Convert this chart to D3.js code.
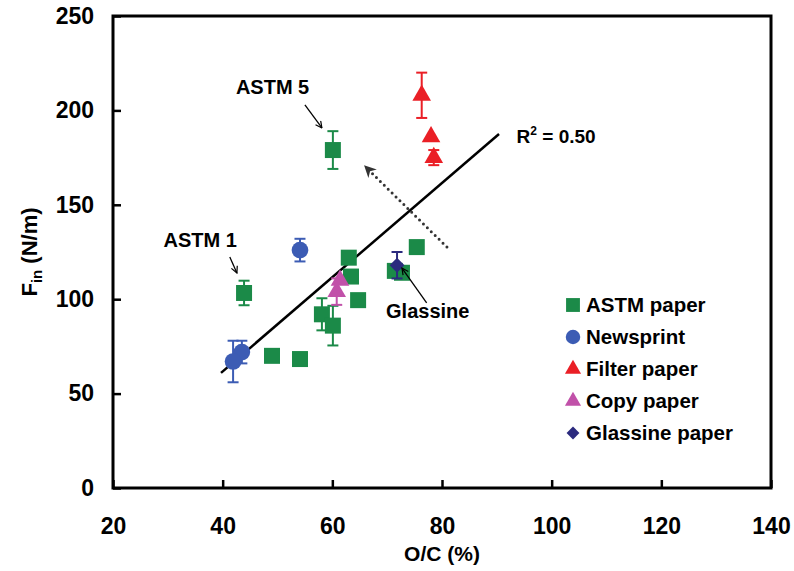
<!DOCTYPE html>
<html>
<head>
<meta charset="utf-8">
<script src="https://cdn.jsdelivr.net/npm/d3@7"></script>
<style>
  body { margin: 0; background: #fff; }
  text { font-family: "Liberation Sans", Arial, sans-serif; font-weight: bold; fill: #000; }
</style>
</head>
<body>
<svg width="794" height="571"></svg>
<script>
const xTicks = [20, 40, 60, 80, 100, 120, 140];
const yTicks = [0, 50, 100, 150, 200, 250];

// [O/C %, F_in N/m, error]
const astm = [[43.9, 103.3, 6.5], [60.1, 179, 10], [49, 70, 0], [54.1, 68.3, 0],
  [58.1, 92, 8.5], [60.1, 86, 10.5], [63, 122, 0], [63.4, 112, 0], [64.7, 99.5, 0],
  [75.4, 127.6, 0], [71.4, 115, 0], [72.7, 114, 0]];
const newsprint = [[54.1, 126, 6], [43.5, 72, 6], [41.9, 67, 11]];
const filterPaper = [[76.3, 208, 12], [78, 186, 0], [78.5, 175, 4]];
const copyPaper = [[61.4, 110, 0], [60.8, 104, 7]];
const glassine = [[71.8, 118, 7]];
const fitLine = [[39.7, 61], [90.4, 187.5]];
const trendArrow = [[80.9, 127.6], [66.1, 170]];

const legendNames = ['ASTM paper', 'Newsprint', 'Filter paper', 'Copy paper', 'Glassine paper'];

const svg = d3.select('svg');
const x = d3.scaleLinear().domain([20, 140]).range([113, 771]);
const y = d3.scaleLinear().domain([0, 250]).range([488, 16]);

// axes (inside ticks)
svg.append('g')
  .attr('transform', 'translate(0,488)')
  .call(d3.axisBottom(x).tickValues(xTicks).tickSizeInner(-8).tickSizeOuter(0).tickPadding(30))
  .call(g => g.select('.domain').remove())
  .call(g => g.selectAll('line').attr('stroke', '#000').attr('stroke-width', 2.5))
  .call(g => g.selectAll('text').style('font-size', '23px').attr('fill', '#000'));

svg.append('g')
  .attr('transform', 'translate(113,0)')
  .call(d3.axisLeft(y).tickValues(yTicks).tickSizeInner(-8).tickSizeOuter(0).tickPadding(19))
  .call(g => g.select('.domain').remove())
  .call(g => g.selectAll('line').attr('stroke', '#000').attr('stroke-width', 2.5))
  .call(g => g.selectAll('text').style('font-size', '23px').attr('fill', '#000'));

svg.append('rect')
  .attr('x', x(20)).attr('y', y(250))
  .attr('width', x(140) - x(20)).attr('height', y(0) - y(250))
  .attr('fill', 'none').attr('stroke', '#000').attr('stroke-width', 3);

// axis titles
svg.append('text')
  .attr('x', (x(20) + x(140)) / 2).attr('y', 561)
  .attr('text-anchor', 'middle').style('font-size', '21px')
  .text('O/C (%)');

const yTitle = svg.append('text')
  .attr('transform', `translate(37,${(y(0) + y(250)) / 2}) rotate(-90)`)
  .attr('text-anchor', 'middle').style('font-size', '22px');
yTitle.append('tspan').text('F');
yTitle.append('tspan').attr('dy', 5).style('font-size', '15px').text('in');
yTitle.append('tspan').attr('dy', -5).text(' (N/m)');

// arrow markers
const defs = svg.append('defs');
defs.append('marker')
  .attr('id', 'thin').attr('viewBox', '0 0 10 10').attr('refX', 9).attr('refY', 5)
  .attr('markerWidth', 8).attr('markerHeight', 8).attr('orient', 'auto').attr('markerUnits', 'userSpaceOnUse')
  .append('path').attr('d', 'M1,1 L9,5 L1,9').attr('fill', 'none').attr('stroke', '#000').attr('stroke-width', 1.5);
defs.append('marker')
  .attr('id', 'solid').attr('viewBox', '0 0 10 10').attr('refX', 8).attr('refY', 5)
  .attr('markerWidth', 12).attr('markerHeight', 12).attr('orient', 'auto').attr('markerUnits', 'userSpaceOnUse')
  .append('path').attr('d', 'M0,0 L10,5 L0,10 L3,5 Z').attr('fill', '#333');

// regression line
svg.append('line')
  .attr('x1', x(fitLine[0][0])).attr('y1', y(fitLine[0][1]))
  .attr('x2', x(fitLine[1][0])).attr('y2', y(fitLine[1][1]))
  .attr('stroke', '#000').attr('stroke-width', 2.5);

// dotted trend arrow
svg.append('line')
  .attr('x1', x(trendArrow[0][0])).attr('y1', y(trendArrow[0][1]))
  .attr('x2', x(trendArrow[1][0])).attr('y2', y(trendArrow[1][1]))
  .attr('stroke', '#333').attr('stroke-width', 3).attr('stroke-linecap', 'round')
  .attr('stroke-dasharray', '0 5.5').attr('marker-end', 'url(#solid)');

const series = [
  { data: astm, color: '#1b8a48', shape: d3.symbolSquare, size: 256, rot: 0 },
  { data: newsprint, color: '#3c5cb4', shape: d3.symbolCircle, size: 220, rot: 0 },
  { data: filterPaper, color: '#ea1f26', shape: d3.symbolTriangle, size: 150, rot: 0 },
  { data: copyPaper, color: '#c151a9', shape: d3.symbolTriangle, size: 150, rot: 0 },
  { data: glassine, color: '#2b2a7e', shape: d3.symbolSquare, size: 110, rot: 45 }
];

series.forEach(s => {
  const g = svg.append('g');
  const eb = g.selectAll('.err').data(s.data.filter(d => d[2] > 0)).enter().append('g')
    .attr('stroke', s.color).attr('stroke-width', 2);
  eb.append('line').attr('x1', d => x(d[0])).attr('x2', d => x(d[0]))
    .attr('y1', d => y(d[1] - d[2])).attr('y2', d => y(d[1] + d[2]));
  eb.append('line').attr('x1', d => x(d[0]) - 5.5).attr('x2', d => x(d[0]) + 5.5)
    .attr('y1', d => y(d[1] + d[2])).attr('y2', d => y(d[1] + d[2]));
  eb.append('line').attr('x1', d => x(d[0]) - 5.5).attr('x2', d => x(d[0]) + 5.5)
    .attr('y1', d => y(d[1] - d[2])).attr('y2', d => y(d[1] - d[2]));
  g.selectAll('.pt').data(s.data).enter().append('path')
    .attr('d', d3.symbol().type(s.shape).size(s.size))
    .attr('transform', d => `translate(${x(d[0])},${y(d[1])}) rotate(${s.rot})`)
    .attr('fill', s.color);
});

// annotations
const notes = [
  { text: 'ASTM 5', at: [49.1, 208.7], anchor: 'middle', from: [55, 202.9], to: [58.1, 190.7] },
  { text: 'ASTM 1', at: [35.9, 127.6], anchor: 'middle', from: [41.3, 122.4], to: [42.6, 113.9] },
  { text: 'Glassine', at: [69.8, 90], anchor: 'start', from: [77.2, 98], to: [72.7, 116.5] }
];
notes.forEach(n => {
  svg.append('text').attr('x', x(n.at[0])).attr('y', y(n.at[1]))
    .attr('text-anchor', n.anchor).style('font-size', '20px').text(n.text);
  svg.append('line')
    .attr('x1', x(n.from[0])).attr('y1', y(n.from[1]))
    .attr('x2', x(n.to[0])).attr('y2', y(n.to[1]))
    .attr('stroke', '#000').attr('stroke-width', 1.3).attr('marker-end', 'url(#thin)');
});

const r2 = svg.append('text').attr('x', x(93.6)).attr('y', y(182.9)).style('font-size', '19px');
r2.append('tspan').text('R');
r2.append('tspan').attr('dy', -8).style('font-size', '12px').text('2');
r2.append('tspan').attr('dy', 8).text(' = 0.50');

// legend
const legend = svg.append('g').attr('transform', 'translate(573,305)');
const leg = legend.selectAll('g').data(series).enter().append('g')
  .attr('transform', (d, i) => `translate(0,${i * 32})`);
leg.append('path')
  .attr('d', d => d3.symbol().type(d.shape).size(d.size * 0.75)())
  .attr('transform', d => `rotate(${d.rot})`)
  .attr('fill', d => d.color);
leg.append('text').attr('x', 13).attr('dy', '0.36em').style('font-size', '20.5px')
  .text((d, i) => legendNames[i]);
</script>
</body>
</html>
